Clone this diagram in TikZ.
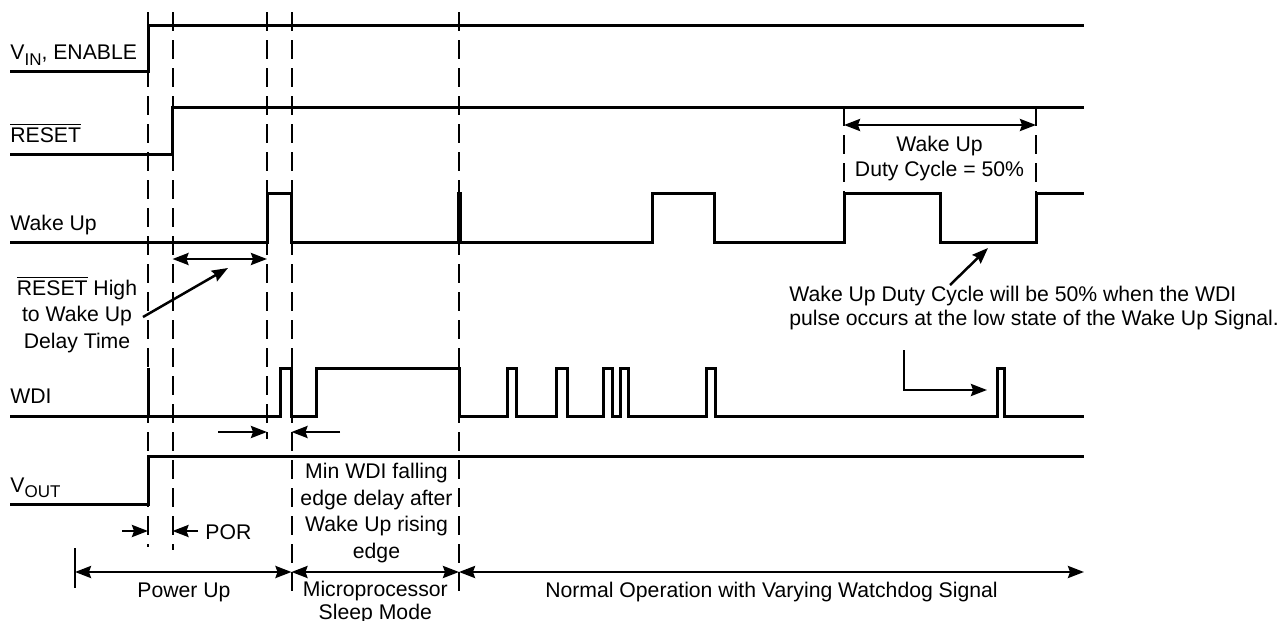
\documentclass[tikz,border=0pt]{standalone}
\usepackage{fontspec}
\setmainfont{Liberation Sans}
\usetikzlibrary{arrows.meta}
\newcommand{\lowtext}[1]{\raisebox{-2.5pt}{\fontsize{8.5}{9}\selectfont #1}}
\newcommand{\notreset}{$\overline{\mbox{RESET}}$}

\begin{document}
\begin{tikzpicture}
[
    x=0.5pt, y=-0.5pt,
    every node/.style={font=\fontsize{10.6}{12}\selectfont, inner sep=0pt},
    signal/.style={line width=1.5pt},
    guide/.style={line width=1pt, dash pattern=on 9.5pt off 4.5pt},
    >={Stealth[length=8pt,width=6pt,inset=1pt]},
    arr/.style={line width=1.25pt, ->},
    darr/.style={line width=1.25pt, <->},
    lines/.style={align=center, font=\fontsize{10.6}{13.25}\selectfont},
]
\useasboundingbox (0,0) rectangle (1281,621);

\foreach \n/\x/\t/\b in {vup/148/12/547, rup/172.5/12/550, wup/267/12/439,
    wdn/291.5/12/593, slp/459/12/593, dhi/844/107/193, dlo/1036/107/193}
{
    \coordinate (\n) at (\x,\t);
    \draw[guide] (\n) -- (\x,\b);
}

\draw[signal] (10,71) -| (148,25) -- (1084,25);
\draw[signal] (10,154) -| (172.5,107) -- (1084,107);
\draw[signal] (10,242) -| (267,193) -| (291.5,242) -| (458,193) -| (460,242)
    -| (652,193) -| (714,242) -| (844,193) -| (940.5,242) -| (1036,193) -- (1084,193);
\draw[signal] (10,416) -| (280,368) -| (291.5,416) -| (316,368) -| (459,416)
    \foreach \a/\b in {507/516, 556/567, 603/612, 620/628, 706/715, 997/1004}
    { -| (\a,368) -| (\b,416) } -- (1084,416);
\draw[signal] (148,368) -- (148,416);
\draw[signal] (10,504) -| (148,456) -- (1084,456);

\node (vin) [anchor=base west] at (10,60) {V\lowtext{IN}, ENABLE};
\node (rst) [anchor=base west] at (10,142) {\notreset};
\node (wake) [anchor=base west] at (10,230.7) {Wake Up};
\node (wdi) [anchor=base west] at (10,403) {WDI};
\node (vout) [anchor=base west] at (10,492) {V\lowtext{OUT}};

\node (delay) [lines, anchor=base] at (77,348) {\notreset{} High\\to Wake Up\\Delay Time};
\node (minwdi) [lines, anchor=base] at (376.5,558) {Min WDI falling\\edge delay after\\Wake Up rising\\edge};
\node (por) [anchor=base west] at (205,539) {POR};
\node (pwrup) [anchor=base] at (184,597) {Power Up};
\node (sleep) [lines, anchor=base, font=\fontsize{10.6}{11.5}\selectfont] at (375.3,619) {Microprocessor\\Sleep Mode};
\node (normal) [anchor=base] at (771.5,597) {Normal Operation with Varying Watchdog Signal};
\node (duty) [lines, anchor=base, font=\fontsize{10.6}{12.5}\selectfont] at (939.5,176.7) {Wake Up\\Duty Cycle = 50\%};
\node (note) [align=left, anchor=base west] at (789,325) {Wake Up Duty Cycle will be 50\% when the WDI\\pulse occurs at the low state of the Wake Up Signal.};

\coordinate (start) at (75,548);
\coordinate (stop) at (1084,572);
\coordinate (delay tail) at (143,317);
\coordinate (delay head) at (228,268);
\coordinate (duty tail) at (950,285);
\coordinate (duty head) at (988,248);
\coordinate (note tail) at (904,350);
\coordinate (note head) at (987,390);

\draw[line width=1pt] (start) -- (75,588);
\draw[darr] (rup |- 0,259) -- (wup |- 0,259);
\draw[arr] (delay tail) -- (delay head);
\draw[arr] (218,432) -- (wup |- 0,432);
\draw[arr] (340,432) -- (wdn |- 0,432);
\draw[arr] (122,531) -- (vup |- 0,531);
\draw[arr] (198,531) -- (rup |- 0,531);
\draw[darr] (start |- stop) -- (wdn |- stop);
\draw[darr] (wdn |- stop) -- (slp |- stop);
\draw[darr] (slp |- stop) -- (stop);
\draw[darr] (dhi |- 0,125) -- (dlo |- 0,125);
\draw[arr] (duty tail) -- (duty head);
\draw[arr] (note tail) |- (note head);
\end{tikzpicture}
\end{document}
